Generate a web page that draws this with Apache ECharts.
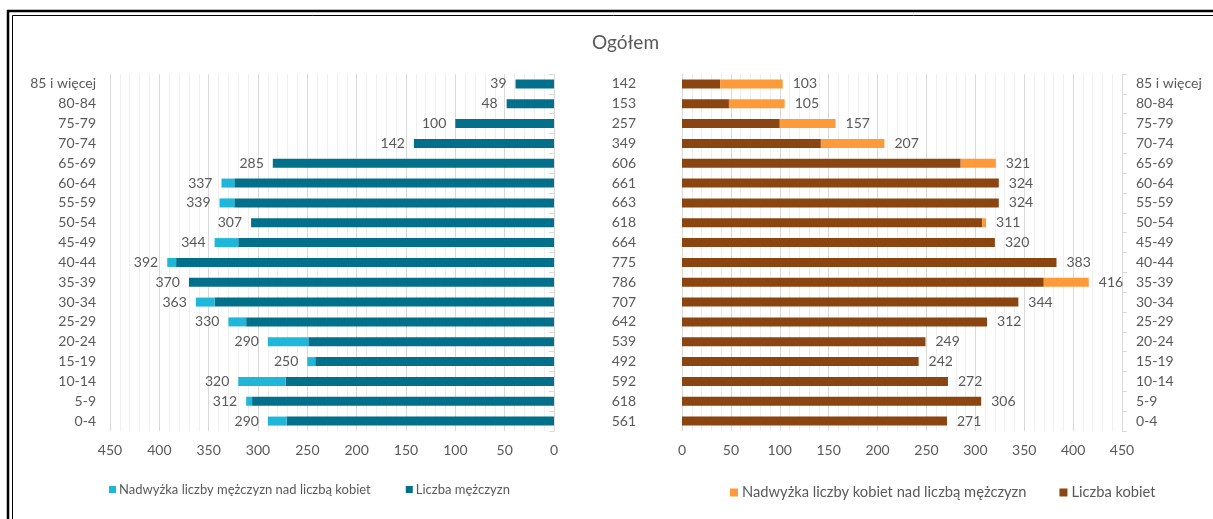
<!DOCTYPE html>
<html><head><meta charset="utf-8">
<script src="https://cdn.jsdelivr.net/npm/echarts@6/dist/echarts.min.js"></script>
<style>html,body{margin:0;padding:0;background:#fff;}#c{width:1213px;height:519px;}</style>
</head><body><div id="c"></div>
<script>
const categories = ['0-4','5-9','10-14','15-19','20-24','25-29','30-34','35-39','40-44','45-49','50-54','55-59','60-64','65-69','70-74','75-79','80-84','85 i więcej'];
const men =   [290,312,320,250,290,330,363,370,392,344,307,339,337,285,142,100,48,39];
const women = [271,306,272,242,249,312,344,416,383,320,311,324,324,321,207,157,105,103];
const totals = [561,618,592,492,539,642,707,786,775,664,618,663,661,606,349,257,153,142];
const xTicks = [0,50,100,150,200,250,300,350,400,450];

const menBase = men.map((m,i)=>Math.min(m,women[i]));
const menExcess = men.map((m,i)=>Math.max(m-women[i],0));
const womenBase = women.map((w,i)=>Math.min(w,men[i]));
const womenExcess = women.map((w,i)=>Math.max(w-men[i],0));

const FONT = 'Lato';
const GRAY = '#595959';
const cTeal = '#02708A', cLight = '#1FB7D9', cBrown = '#8B4511', cOrange = '#FF9A3B';

function xAxis(gi, inv){
  return {type:'value', gridIndex:gi, min:xTicks[0], max:xTicks[xTicks.length-1], interval:50, inverse:inv,
    axisLine:{show:false}, axisTick:{show:false},
    axisLabel:{color:GRAY, fontSize:14, fontFamily:FONT, margin:12},
    splitLine:{show:true, lineStyle:{color:'#d9d9d9', width:1}},
    minorTick:{show:false, splitNumber:5},
    minorSplitLine:{show:true, lineStyle:{color:'#efefef', width:1}}};
}
const lbl = {color:GRAY, fontSize:14, fontFamily:FONT};

const option = {
  animation:false,
  textStyle:{fontFamily:FONT},
  title:{text:'Ogółem', left:587, top:28, textStyle:{color:GRAY, fontSize:19, fontWeight:'normal', fontFamily:FONT}},
  graphic:[
    {type:'rect', shape:{x:8, y:11, width:1220, height:530}, style:{fill:null, stroke:'#000', lineWidth:2.5}, silent:true},
    {type:'rect', shape:{x:12.5, y:15.5, width:1220, height:530}, style:{fill:null, stroke:'#000', lineWidth:1}, silent:true}
  ],
  legend:[
    {data:['Nadwyżka liczby mężczyzn nad liczbą kobiet','Liczba mężczyzn'], left:104, top:478, itemWidth:7, itemHeight:7, itemGap:35, icon:'rect',
     textStyle:{color:GRAY, fontSize:13, fontFamily:FONT, padding:[0,0,0,-2]}},
    {data:['Nadwyżka liczby kobiet nad liczbą mężczyzn','Liczba kobiet'], left:725, top:480, itemWidth:8, itemHeight:8, itemGap:33, icon:'rect',
     textStyle:{color:GRAY, fontSize:14.7, fontFamily:FONT, padding:[0,0,0,-1]}}
  ],
  grid:[
    {left:110, width:444, top:74, height:357},
    {left:682, width:440, top:74, height:357}
  ],
  xAxis:[xAxis(0,true), xAxis(1,false)],
  yAxis:[
    {type:'category', gridIndex:0, data:categories, position:'left',
     axisLine:{show:true, lineStyle:{color:'#d9d9d9'}}, axisTick:{show:true, length:5, lineStyle:{color:'#d9d9d9'}},
     axisLabel:Object.assign({margin:14}, lbl)},
    {type:'category', gridIndex:1, data:categories, position:'left',
     axisLine:{show:false}, axisTick:{show:false},
     axisLabel:Object.assign({margin:46, formatter:(v,i)=>String(totals[i])}, lbl)},
    {type:'category', gridIndex:1, data:categories, position:'right',
     axisLine:{show:true, lineStyle:{color:'#d9d9d9'}}, axisTick:{show:true, length:5, lineStyle:{color:'#d9d9d9'}},
     axisLabel:Object.assign({margin:14}, lbl)}
  ],
  series:[
    {name:'Liczba mężczyzn', type:'bar', stack:'m', xAxisIndex:0, yAxisIndex:0, data:menBase, barWidth:9, itemStyle:{color:cTeal}},
    {name:'Nadwyżka liczby mężczyzn nad liczbą kobiet', type:'bar', stack:'m', xAxisIndex:0, yAxisIndex:0, data:menExcess, barWidth:9, itemStyle:{color:cLight},
     label:Object.assign({show:true, position:'left', distance:9, formatter:p=>String(men[p.dataIndex])}, lbl)},
    {name:'Liczba kobiet', type:'bar', stack:'w', xAxisIndex:1, yAxisIndex:2, data:womenBase, barWidth:9, itemStyle:{color:cBrown}},
    {name:'Nadwyżka liczby kobiet nad liczbą mężczyzn', type:'bar', stack:'w', xAxisIndex:1, yAxisIndex:2, data:womenExcess, barWidth:9, itemStyle:{color:cOrange},
     label:Object.assign({show:true, position:'right', distance:10, formatter:p=>String(women[p.dataIndex])}, lbl)}
  ]
};
const chart = echarts.init(document.getElementById('c'), null, {renderer:'canvas'});
chart.setOption(option);
</script></body></html>
